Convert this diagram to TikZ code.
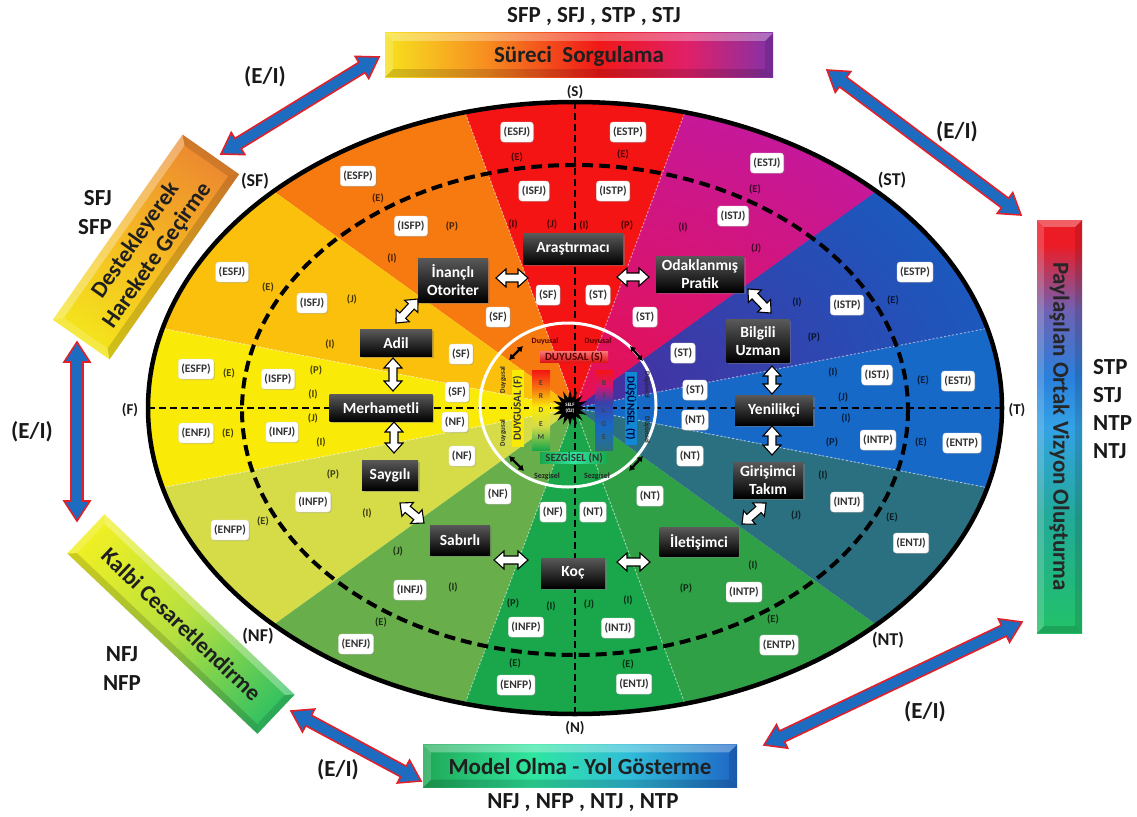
\documentclass[tikz,border=0pt]{standalone}
\usepackage{fontspec}
\setmainfont{Carlito}
\usetikzlibrary{calc,arrows.meta,shapes.geometric,shadows}

\definecolor{wRed}{HTML}{F41414}
\definecolor{wOrange}{HTML}{F67A10}
\definecolor{wAmber}{HTML}{FAC00C}
\definecolor{wYellow}{HTML}{FAEA08}
\definecolor{wLime}{HTML}{D5DC48}
\definecolor{wOlive}{HTML}{68AE4A}
\definecolor{wGreen}{HTML}{1AA64A}
\definecolor{wGreenB}{HTML}{30A046}
\definecolor{wTeal}{HTML}{2B7080}
\definecolor{wBlue}{HTML}{1769C8}
\definecolor{wViolet}{HTML}{3A40AA}
\definecolor{wVioletIn}{HTML}{4A2C9E}
\definecolor{wVioletOut}{HTML}{1A5ABE}
\definecolor{wMagenta}{HTML}{D81470}
\definecolor{wMagIn}{HTML}{E8104E}
\definecolor{wMagOut}{HTML}{C4189C}
\definecolor{aBlue}{HTML}{1E6CC0}
\definecolor{aRed}{HTML}{E0202A}
\definecolor{sY}{HTML}{F7E21E}
\definecolor{sO}{HTML}{F79120}
\definecolor{sR}{HTML}{F01818}
\definecolor{sM}{HTML}{E02068}
\definecolor{sP}{HTML}{8232A8}
\definecolor{mG}{HTML}{1FA855}
\definecolor{mM}{HTML}{30E6A0}
\definecolor{mC}{HTML}{30BED8}
\definecolor{mB}{HTML}{1E66C6}
\definecolor{pR}{HTML}{EC1C26}
\definecolor{pV}{HTML}{6E62B4}
\definecolor{pB}{HTML}{2A80DC}
\definecolor{pL}{HTML}{34A2E6}
\definecolor{pT}{HTML}{22AA98}
\definecolor{pG}{HTML}{22C268}
\definecolor{dY}{HTML}{F4E61C}
\definecolor{dA}{HTML}{F5B822}
\definecolor{dO}{HTML}{EC8830}
\definecolor{kY}{HTML}{F2F022}
\definecolor{kL}{HTML}{B6E040}
\definecolor{kG}{HTML}{2EC062}

% the path's box is fitted to the 25bp--75bp part of a shading
\pgfdeclarehorizontalshading{shSureci}{100bp}{color(0bp)=(sY); color(25bp)=(sY); color(37.5bp)=(sO); color(52.5bp)=(sR); color(64bp)=(sM); color(75bp)=(sP); color(100bp)=(sP)}
\pgfdeclarehorizontalshading{shModel}{100bp}{color(0bp)=(mG); color(25bp)=(mG); color(42.5bp)=(mM); color(57.5bp)=(mC); color(75bp)=(mB); color(100bp)=(mB)}
\pgfdeclareverticalshading{shPayl}{100bp}{color(0bp)=(pG); color(25bp)=(pG); color(39bp)=(pT); color(50bp)=(pL); color(56bp)=(pB); color(64bp)=(pV); color(72bp)=(pR); color(100bp)=(pR)}
\pgfdeclarehorizontalshading{shDest}{100bp}{color(0bp)=(dY); color(25bp)=(dY); color(50bp)=(dA); color(75bp)=(dO); color(100bp)=(dO)}
\pgfdeclarehorizontalshading{shKalbi}{100bp}{color(0bp)=(kY); color(25bp)=(kY); color(50bp)=(kL); color(75bp)=(kG); color(100bp)=(kG)}
\pgfdeclareverticalshading{shErdem}{100bp}{color(0bp)=(wGreen); color(25bp)=(wGreen); color(40bp)=(wLime); color(52bp)=(wYellow); color(63bp)=(wOrange); color(75bp)=(wRed); color(100bp)=(wRed)}
\pgfdeclareverticalshading{shBilge}{100bp}{color(0bp)=(wTeal); color(25bp)=(wTeal); color(40bp)=(wBlue); color(55bp)=(wViolet); color(65bp)=(wMagenta); color(75bp)=(wRed); color(100bp)=(wRed)}
\pgfdeclarehorizontalshading{shSez}{100bp}{color(0bp)=(wGreen); color(25bp)=(wGreen); color(50bp)=(mM); color(75bp)=(wGreen); color(100bp)=(wGreen)}

\newcommand\blockarrow[6][]{%
  \draw[#1] (#2) -- ($(#2)!#6!(#3)!#5!90:(#3)$) -- ($(#2)!#6!(#3)!#4!90:(#3)$)
    -- ($(#3)!#6!(#2)!#4!-90:(#2)$) -- ($(#3)!#6!(#2)!#5!-90:(#2)$) -- (#3)
    -- ($(#3)!#6!(#2)!#5!90:(#2)$) -- ($(#3)!#6!(#2)!#4!90:(#2)$)
    -- ($(#2)!#6!(#3)!#4!-90:(#3)$) -- ($(#2)!#6!(#3)!#5!-90:(#3)$) -- cycle;}

\newcommand\bevelbox[2]{%
  \fill[white, opacity=0.3] (#1.north west) -- (#1.north east) -- ([shift={(-#2,#2)}]#1.north east) -- ([shift={(#2,#2)}]#1.north west) -- cycle;
  \fill[black, opacity=0.15] (#1.south west) -- (#1.south east) -- ([shift={(-#2,-#2)}]#1.south east) -- ([shift={(#2,-#2)}]#1.south west) -- cycle;
  \fill[white, opacity=0.18] (#1.north west) -- ([shift={(#2,#2)}]#1.north west) -- ([shift={(#2,-#2)}]#1.south west) -- (#1.south west) -- cycle;
  \fill[black, opacity=0.12] (#1.north east) -- ([shift={(-#2,#2)}]#1.north east) -- ([shift={(-#2,-#2)}]#1.south east) -- (#1.south east) -- cycle;}

\begin{document}
\begin{tikzpicture}[x=1pt,y=-1pt,
  lbl/.style={fill=white, draw=black!12, rounded corners=3pt, inner xsep=3pt, inner ysep=0pt, minimum height=20pt, font=\fontsize{11.5}{13}\selectfont\bfseries, text=black!80, drop shadow={shadow xshift=1pt, shadow yshift=-1pt, opacity=0.3}},
  ltr/.style={font=\fontsize{10.5}{12}\selectfont\bfseries, text=black, text opacity=0.72, inner sep=0pt},
  role/.style={shade, top color=black!65, middle color=black, bottom color=black, text=white, font=\fontsize{15.5}{18.5}\selectfont\bfseries, align=center, inner sep=0pt, drop shadow={shadow xshift=1.5pt, shadow yshift=-1.5pt, opacity=0.45}},
  outl/.style={font=\fontsize{18}{21}\selectfont\bfseries, text=black!90, inner sep=0pt},
  outs/.style={font=\fontsize{15}{18}\selectfont\bfseries, text=black!90, inner sep=0pt},
  big/.style={font=\fontsize{23}{28}\selectfont\bfseries, text=black!90, inner sep=0pt},
  warrow/.style={fill=white, draw=black, line width=1.1pt, line join=miter},
  barrow/.style={fill=aBlue, draw=aRed, line width=1.6pt, line join=miter},
  carrow/.style={line width=2.3pt, black, {Latex[length=5.5pt,width=7pt]}-{Latex[length=5.5pt,width=7pt]}},
  tinyt/.style={font=\fontsize{8}{9}\selectfont\bfseries, inner sep=0pt},
  tinyr/.style={font=\fontsize{7}{8}\selectfont\bfseries, inner sep=0pt, text=black!85}
]
\useasboundingbox (0,0) rectangle (1137,816);
\fill[white] (0,0) rectangle (1137,816);

% ---------- colour wheel ----------
\begin{scope}
  \clip (575,408) ellipse [x radius=427, y radius=306];
  \begin{scope}[shift={(575,408)}, yscale=-1]
    \foreach \a/\b/\c in {75/105/wRed, 105/135/wOrange, 135/165/wAmber, 165/195/wYellow, 195/225/wLime, 225/255/wOlive, 255/285/wGreen, 285/315/wGreenB, 315/345/wTeal, 345/375/wBlue, 15/45/wViolet, 45/75/wMagenta}{
      \fill[\c] (0,0) -- (\a:570 and 410) -- ({(\a+\b)/2}:570 and 410) -- (\b:570 and 410) -- cycle;
    }
    \begin{scope}
      \clip (0,0) -- (15:570 and 410) -- (30:570 and 410) -- (45:570 and 410) -- cycle;
      \shade[inner color=wVioletIn, outer color=wVioletOut] (0,0) ellipse [x radius=440, y radius=316];
    \end{scope}
    \begin{scope}
      \clip (0,0) -- (45:570 and 410) -- (60:570 and 410) -- (75:570 and 410) -- cycle;
      \shade[inner color=wMagIn, outer color=wMagOut] (0,0) ellipse [x radius=440, y radius=316];
    \end{scope}
    \foreach \a in {15,75,105,165,195,255,285,345}{
      \draw[white, opacity=0.5, dash pattern=on 2pt off 2pt, line width=1pt] (0,0) -- (\a:430 and 310);
    }
  \end{scope}
\end{scope}

\draw[line width=4pt, dash pattern=on 11pt off 6pt] (575,410) ellipse [x radius=333, y radius=245];
\draw[line width=2.5pt, dash pattern=on 7pt off 4pt] (148,408) -- (1002,408);
\draw[line width=2.5pt, dash pattern=on 7pt off 4pt] (575,102) -- (575,714);
\draw[line width=4.5pt] (575,408) ellipse [x radius=427, y radius=306];

% ---------- centre ----------
\draw[white, line width=3pt] (568,405) ellipse [x radius=88, y radius=82];
\node[shade, top color=wRed!60!white, bottom color=wRed!90!black, minimum width=68pt, minimum height=11pt, inner sep=0pt, font=\fontsize{11}{11}\selectfont\bfseries, text=red!35!black] (dS) at (574,357) {DUYUSAL (S)};
\node[shade, shading=shSez, minimum width=68pt, minimum height=11pt, inner sep=0pt, font=\fontsize{11}{11}\selectfont\bfseries, text=black!80] (dN) at (574,458) {SEZGİSEL (N)};
\node[fill=wYellow, rotate=90, minimum width=77pt, minimum height=12pt, inner sep=0pt, font=\fontsize{11}{11}\selectfont\bfseries, text=black!80] (dF) at (517.5,408.5) {DUYGUSAL (F)};
\node[fill=wBlue!80!cyan, rotate=-90, minimum width=73pt, minimum height=12pt, inner sep=0pt, font=\fontsize{11}{11}\selectfont\bfseries, text=blue!25!black] (dT) at (631,408.5) {DÜŞÜNSEL (T)};
\node[shade, shading=shErdem, minimum width=18pt, minimum height=80pt, inner sep=0pt, align=center, font=\fontsize{7.5}{13.6}\selectfont\bfseries, text=black!75] (erdem) at (541,410) {E\\R\\D\\E\\M};
\node[shade, shading=shBilge, minimum width=18pt, minimum height=80pt, inner sep=0pt, align=center, font=\fontsize{7.5}{13.6}\selectfont\bfseries, text=black!75] (bilge) at (604,410) {B\\İ\\L\\G\\E};
\node[star, star points=16, star point ratio=1.8, fill=black, minimum size=36pt, inner sep=0pt, text=white, align=center, font=\fontsize{5}{5.5}\selectfont\bfseries] (self) at (570,408) {SELF\\(ÖZ)};

\node[tinyt, text=red!35!black] (du1) at (545,341) {Duyusal};
\node[tinyt, text=red!35!black] (du2) at (598,341) {Duyusal};
\node[tinyr, rotate=90] (dg1) at (503,380) {Duygusal};
\node[tinyr, rotate=90] (dg2) at (503,433) {Duygusal};
\node[tinyr, rotate=-90] (ds1) at (647,385) {Düşünsel};
\node[tinyr, rotate=-90] (ds2) at (647,430) {Düşünsel};
\node[tinyt, text=black!85] (sz1) at (547,476) {Sezgisel};
\node[tinyt, text=black!85] (sz2) at (597,476) {Sezgisel};

\coordinate (c1a) at (509,360); \coordinate (c1b) at (523,346);
\coordinate (c2a) at (630,346); \coordinate (c2b) at (643,361);
\coordinate (c3a) at (509,456); \coordinate (c3b) at (524,471);
\coordinate (c4a) at (629,471); \coordinate (c4b) at (643,456);
\draw[carrow] (c1a) -- (c1b);
\draw[carrow] (c2a) -- (c2b);
\draw[carrow] (c3a) -- (c3b);
\draw[carrow] (c4a) -- (c4b);

% ---------- type labels ----------
\foreach \x/\y/\t [count=\i] in {517/132/ESFJ, 534/191/ISFJ, 628/132/ESTP, 613/191/ISTP, 358/176/ESFP, 411/226/ISFP, 232/272/ESFJ, 312/303/ISFJ, 196/369/ESFP, 278/379/ISFP, 196/433/ENFJ, 282/432/INFJ, 230/530/ENFP, 313/502/INFP, 356/644/ENFJ, 410/590/INFJ, 516/685/ENFP, 526/627/INFP, 634/684/ENTJ, 618/628/INTJ, 779/645/ENTP, 744/592/INTP, 911/543/ENTJ, 847/502/INTJ, 962/443/ENTP, 878/440/INTP, 958/381/ESTJ, 877/375/ISTJ, 915/272/ESTP, 847/305/ISTP, 767/163/ESTJ, 733/216/ISTJ, 548/295/SF, 598/295/ST, 498/317/SF, 645/317/ST, 461/354/SF, 683/353/ST, 457/392/SF, 695/390/ST, 455/422/NF, 695/420/NT, 462/456/NF, 690/456/NT, 498/494/NF, 650/496/NT, 553/512/NF, 593/512/NT}{
  \node[lbl] (L\i) at (\x,\y) {(\t)};
}

\foreach \x/\y/\t [count=\i] in {517/157/E, 513/224/I, 552/224/J, 623/154/E, 584/225/I, 627/225/P, 378/198/E, 452/226/P, 392/258/I, 268/287/E, 352/299/J, 330/344/I, 229/373/E, 316/370/P, 313/394/I, 228/433/E, 313/418/J, 321/442/I, 333/474/P, 263/521/E, 367/513/I, 398/551/J, 453/587/I, 381/622/E, 513/603/P, 551/606/I, 515/663/E, 589/604/J, 628/600/I, 628/664/E, 753/565/I, 686/588/P, 773/619/E, 823/475/I, 796/515/J, 892/517/E, 846/418/I, 832/442/P, 921/442/E, 833/372/I, 843/397/J, 923/380/E, 797/302/I, 814/337/P, 893/300/E, 755/189/E, 683/227/I, 756/248/J}{
  \node[ltr] (t\i) at (\x,\y) {(\t)};
}

% ---------- role boxes ----------
\node[role, minimum width=100pt, minimum height=31pt] (ara) at (573,249) {Araştırmacı};
\node[role, minimum width=70pt, minimum height=44pt] (ina) at (453,280) {İnançlı\\Otoriter};
\node[role, minimum width=88pt, minimum height=36pt] (oda) at (700,274) {Odaklanmış\\Pratik};
\node[role, minimum width=63pt, minimum height=43pt] (bil) at (758,341) {Bilgili\\Uzman};
\node[role, minimum width=78pt, minimum height=30pt] (yen) at (774,410) {Yenilikçi};
\node[role, minimum width=70pt, minimum height=36pt] (gir) at (768,480) {Girişimci\\Takım};
\node[role, minimum width=79pt, minimum height=29pt] (ile) at (699,542) {İletişimci};
\node[role, minimum width=64pt, minimum height=30pt] (koc) at (573,573) {Koç};
\node[role, minimum width=60pt, minimum height=30pt] (sab) at (460,540) {Sabırlı};
\node[role, minimum width=56pt, minimum height=30pt] (say) at (390,475) {Saygılı};
\node[role, minimum width=103pt, minimum height=27pt] (mer) at (381,408) {Merhametli};
\node[role, minimum width=72pt, minimum height=27pt] (adi) at (396,343) {Adil};

% white double arrows
\coordinate (w1a) at (496,278);  \coordinate (w1b) at (528,278);
\coordinate (w2a) at (617,277);  \coordinate (w2b) at (649,277);
\coordinate (w3a) at (748,289);  \coordinate (w3b) at (771,313);
\coordinate (w4a) at (772,366);  \coordinate (w4b) at (772,394);
\coordinate (w5a) at (772,426);  \coordinate (w5b) at (772,455);
\coordinate (w6a) at (766,503);  \coordinate (w6b) at (742,524);
\coordinate (w7a) at (650,562);  \coordinate (w7b) at (617,562);
\coordinate (w8a) at (528,560);  \coordinate (w8b) at (494,560);
\coordinate (w9a) at (424,523);  \coordinate (w9b) at (400,503);
\coordinate (w10a) at (394,453); \coordinate (w10b) at (394,422);
\coordinate (w11a) at (393,391); \coordinate (w11b) at (393,358);
\coordinate (w12a) at (396,323); \coordinate (w12b) at (418,299);
\foreach \i in {1,...,12}{
  \blockarrow[warrow]{w\i a}{w\i b}{4pt}{9pt}{10pt}
}

% ---------- outer labels ----------
\node[outs] (oS) at (575,92) {(S)};
\node[outl] (oSF) at (255,181) {(SF)};
\node[outl] (oST) at (892,180) {(ST)};
\node[outs] (oF) at (130,410) {(F)};
\node[outs] (oT) at (1017,410) {(T)};
\node[outl] (oNF) at (258,636) {(NF)};
\node[outl] (oNT) at (888,640) {(NT)};
\node[outs] (oN) at (575,728) {(N)};

% ---------- banners ----------
\node[shade, shading=shSureci, minimum width=388pt, minimum height=44pt, inner sep=0pt] (sureci) at (579,55) {};
\bevelbox{sureci}{8}
\node[big, text=black!88] (sureciT) at (579,56) {Süreci~ Sorgulama};

\node[shade, shading=shModel, minimum width=314pt, minimum height=43pt, inner sep=0pt] (model) at (580,766) {};
\bevelbox{model}{8}
\node[big, text=black!88] (modelT) at (580,767) {Model Olma - Yol Gösterme};

\node[shade, shading=shPayl, minimum width=45pt, minimum height=413pt, inner sep=0pt] (payl) at (1059.5,426.5) {};
\bevelbox{payl}{7}
\node[big, rotate=-90, font=\fontsize{23}{27}\selectfont\bfseries, text=black!85] (paylT) at (1059.5,426.5) {Paylaşılan Ortak Vizyon Oluşturma};

\begin{scope}[transform canvas={shift={(146,247)}, rotate=55}]
  \node[shade, shading=shDest, minimum width=226pt, minimum height=69pt, inner sep=0pt] (dest) at (0,0) {};
  \bevelbox{dest}{8}
\end{scope}
\node[big, rotate=55, align=center, font=\fontsize{23}{26}\selectfont\bfseries, text=black!88] (destT) at (147,248) {Destekleyerek\\Harekete Geçirme};

\begin{scope}[transform canvas={shift={(181,624)}, rotate=-43.5}]
  \node[shade, shading=shKalbi, minimum width=262pt, minimum height=54pt, inner sep=0pt] (kalbi) at (0,0) {};
  \bevelbox{kalbi}{7}
\end{scope}
\node[big, rotate=-43.5, text=black!88] (kalbiT) at (181.5,624.5) {Kalbi Cesaretlendirme};

% ---------- group labels ----------
\node[big] (gTop) at (594,17) {SFP , SFJ , STP , STJ};
\node[big] (gBot) at (583,803) {NFJ , NFP , NTJ , NTP};
\node[big, align=left, anchor=west, font=\fontsize{23}{27.7}\selectfont\bfseries] (gRight) at (1093,409) {STP\\STJ\\NTP\\NTJ};
\node[big, align=right, anchor=east, font=\fontsize{23}{29}\selectfont\bfseries] (gLeftU) at (112,213) {SFJ\\SFP};
\node[big, align=center, font=\fontsize{23}{29}\selectfont\bfseries] (gLeftD) at (122,669) {NFJ\\NFP};

% ---------- blue E/I arrows ----------
\coordinate (tlA) at (379,57);   \coordinate (tlB) at (221,154);
\coordinate (trA) at (827,70);   \coordinate (trB) at (1021,215);
\coordinate (brA) at (1022,622); \coordinate (brB) at (764,745);
\coordinate (blA) at (291,711);  \coordinate (blB) at (421,781);
\coordinate (lfA) at (77,342);   \coordinate (lfB) at (77,521);
\blockarrow[barrow]{tlA}{tlB}{6pt}{13pt}{20pt}
\blockarrow[barrow]{trA}{trB}{6pt}{13pt}{20pt}
\blockarrow[barrow]{brA}{brB}{6pt}{13pt}{20pt}
\blockarrow[barrow]{blA}{blB}{6pt}{13pt}{20pt}
\blockarrow[barrow]{lfA}{lfB}{6pt}{13pt}{20pt}

\node[big] (ei1) at (265,77) {(E/I)};
\node[big] (ei2) at (957,132) {(E/I)};
\node[big] (ei3) at (32,432) {(E/I)};
\node[big] (ei4) at (338,770) {(E/I)};
\node[big] (ei5) at (925,712) {(E/I)};
\end{tikzpicture}
\end{document}
